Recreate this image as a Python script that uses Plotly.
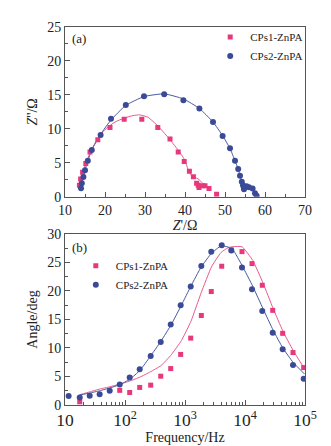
import plotly.graph_objects as go

PINK = "#E8387C"
BLUE = "#3B4A96"
PINK_L = "#E95A8E"
BLUE_L = "#4A5AA2"

# ---------- (a) Nyquist ----------
nyq1_x = [13.6, 13.9, 14.4, 15.2, 16.25, 18.2, 21.25, 24.8, 29.2, 33.2, 36.25, 38.3, 39.8, 41.1, 42.1, 42.9, 43.3, 43.5, 44.4, 45.0, 46.0, 47.9]
nyq1_y = [1.7, 2.6, 3.6, 4.9, 6.6, 8.4, 10.2, 11.4, 11.4, 10.2, 8.5, 6.6, 5.2, 3.75, 2.95, 2.0, 1.7, 1.35, 1.6, 1.6, 1.2, 0.35]
nyq1_fit_x = [13.6, 14.0, 14.5, 15.3, 16.3, 18.0, 20.0, 22.5, 24.9, 27.0, 28.7, 30.75, 33.25, 35.75, 38.25, 39.9, 40.75, 41.6, 43.25, 44.5, 44.9]
nyq1_fit_y = [1.7, 2.7, 3.7, 5.0, 6.5, 8.4, 9.9, 11.0, 11.6, 11.95, 12.05, 11.7, 10.4, 8.75, 6.9, 5.46, 4.05, 3.1, 2.64, 1.93, 1.45]

nyq2_x = [14.0, 14.2, 14.6, 15.0, 15.7, 16.7, 18.9, 21.5, 25.2, 29.75, 34.8, 39.6, 43.6, 47.0, 49.4, 51.25, 52.5, 53.3, 53.75, 54.2, 54.5, 54.7, 54.75, 55.4, 56.0, 56.9, 57.5, 57.9]
nyq2_y = [1.25, 2.0, 2.9, 3.9, 5.3, 6.9, 9.1, 11.5, 13.5, 14.8, 15.1, 14.2, 13.0, 11.0, 8.95, 7.15, 5.3, 4.1, 3.1, 2.2, 1.7, 1.35, 1.1, 1.55, 1.4, 1.2, 0.5, 0.15]
nyq2_fit_x = [13.9, 14.2, 14.6, 15.0, 15.7, 16.7, 18.9, 21.5, 25.2, 29.75, 34.8, 39.6, 43.6, 47.0, 49.4, 51.25, 52.5, 53.3, 53.8, 54.2, 54.6, 55.4, 56.0, 56.9, 57.5, 57.9]
nyq2_fit_y = [1.2, 2.0, 2.9, 3.9, 5.3, 6.9, 9.2, 11.3, 13.45, 14.75, 15.15, 14.4, 13.0, 11.0, 9.0, 7.1, 5.3, 4.1, 3.0, 2.2, 1.6, 1.45, 1.35, 1.1, 0.5, 0.1]

# ---------- (b) Bode phase ----------
freq = [11.5, 17.6, 25.8, 37.8, 55.6, 81.7, 119.7, 175.8, 268, 394, 578, 847, 1245, 1871, 2742, 4093, 5916, 8913, 13092, 19409, 28973, 42462, 63096, 95060]
phase2 = [1.56, 1.30, 1.63, 1.90, 2.52, 3.58, 4.83, 6.28, 8.6, 11.05, 14.13, 17.5, 20.8, 24.4, 26.87, 28.04, 27.1, 24.1, 20.3, 16.5, 12.67, 9.76, 7.0, 4.6]
freq1 = [17.6, 81.7, 119.7, 175.8, 268, 394, 578, 847, 1245, 1871, 2742, 4093, 5916, 8913, 13092, 19409, 28973, 42462, 63096, 95060]
phase1 = [0.56, 2.57, 2.19, 3.08, 3.48, 5.05, 6.39, 8.87, 11.73, 15.7, 19.9, 24.34, 27.2, 26.9, 24.8, 21.0, 16.6, 12.57, 9.2, 6.56]

fit_f = [17.6, 25.7, 38.0, 56.2, 81.3, 120.0, 178.0, 263.0, 398.0, 589.0, 871.0, 1259.0, 1862.0, 2754.0, 3981.0, 5248.0, 6310.0, 8913.0, 13490.0, 19953.0, 29512.0, 42658.0, 63096.0, 98855.0]
fit1 = [1.8, 2.3, 2.8, 3.2, 3.65, 4.2, 4.9, 5.8, 6.9, 8.8, 11.3, 14.7, 19.7, 24.2, 26.75, 27.6, 27.76, 27.76, 25.35, 21.4, 16.9, 13.0, 9.6, 6.3]
fit2 = [1.73, 2.1, 2.5, 3.0, 3.55, 4.5, 6.1, 8.5, 11.2, 14.1, 17.5, 20.9, 24.2, 26.6, 27.9, 27.7, 27.2, 24.5, 20.8, 16.9, 13.1, 10.0, 7.5, 5.4]

labels = ["CPs1-ZnPA", "CPs2-ZnPA"]

fig = go.Figure()
# panel a
fig.add_trace(go.Scatter(x=nyq1_fit_x, y=nyq1_fit_y, mode="lines", line=dict(color=PINK_L, width=1, shape="spline", smoothing=0.5),
                         showlegend=False, xaxis="x", yaxis="y", hoverinfo="skip"))
fig.add_trace(go.Scatter(x=nyq2_fit_x, y=nyq2_fit_y, mode="lines", line=dict(color=BLUE_L, width=1, shape="spline", smoothing=0.5),
                         showlegend=False, xaxis="x", yaxis="y", hoverinfo="skip"))
fig.add_trace(go.Scatter(x=nyq1_x, y=nyq1_y, mode="markers", name=labels[0], marker=dict(symbol="square", size=5, color=PINK),
                         xaxis="x", yaxis="y", legend="legend"))
fig.add_trace(go.Scatter(x=nyq2_x, y=nyq2_y, mode="markers", name=labels[1], marker=dict(symbol="circle", size=6, color=BLUE),
                         xaxis="x", yaxis="y", legend="legend"))
# panel b
fig.add_trace(go.Scatter(x=fit_f, y=fit1, mode="lines", line=dict(color=PINK_L, width=1, shape="spline", smoothing=0.4),
                         showlegend=False, xaxis="x2", yaxis="y2", hoverinfo="skip"))
fig.add_trace(go.Scatter(x=fit_f, y=fit2, mode="lines", line=dict(color=BLUE_L, width=1, shape="spline", smoothing=0.4),
                         showlegend=False, xaxis="x2", yaxis="y2", hoverinfo="skip"))
fig.add_trace(go.Scatter(x=freq1, y=phase1, mode="markers", name=labels[0], marker=dict(symbol="square", size=5, color=PINK),
                         xaxis="x2", yaxis="y2", legend="legend2"))
fig.add_trace(go.Scatter(x=freq, y=phase2, mode="markers", name=labels[1], marker=dict(symbol="circle", size=6, color=BLUE),
                         xaxis="x2", yaxis="y2", legend="legend2"))

FONT = "Liberation Serif, Times New Roman, serif"
axcol = "#555555"
common = dict(showgrid=False, zeroline=False, showline=True, linecolor=axcol, linewidth=1, mirror=True,
              ticks="inside", ticklen=5, tickcolor=axcol, tickfont=dict(size=14, color="#222"))

fig.update_layout(
    width=331, height=446,
    margin=dict(l=57, r=34, t=15, b=37),
    paper_bgcolor="white", plot_bgcolor="white",
    font=dict(family=FONT, color="#222", size=14),
    xaxis=dict(domain=[0, 1], anchor="y", range=[10, 70], dtick=10, tick0=10,
               minor=dict(dtick=5, ticks="inside", ticklen=3, tickcolor=axcol),
               title=dict(text="<i>Z</i>'/Ω", standoff=2, font=dict(size=14)), **common),
    yaxis=dict(domain=[0.551, 1], anchor="x", range=[0, 25], dtick=5,
               minor=dict(dtick=2.5, ticks="inside", ticklen=3, tickcolor=axcol),
               title=dict(text="<i>Z</i>''/Ω", standoff=6, font=dict(size=14)), **common),
    xaxis2=dict(domain=[0, 1], anchor="y2", type="log", range=[1, 5], dtick=1,
                exponentformat="power", showexponent="all",
                minor=dict(ticks="inside", ticklen=3, tickcolor=axcol, dtick="D1"),
                title=dict(text="Frequency/Hz", standoff=2, font=dict(size=14)), **common),
    yaxis2=dict(domain=[0, 0.4525], anchor="x2", range=[0, 30], dtick=5,
                minor=dict(dtick=2.5, ticks="inside", ticklen=3, tickcolor=axcol),
                title=dict(text="Angle/deg", standoff=6, font=dict(size=14)), **common),
    legend=dict(x=0.605, y=1.012, xanchor="left", yanchor="top", font=dict(size=11, family=FONT),
                bgcolor="rgba(0,0,0,0)", itemwidth=30, tracegroupgap=0),
    legend2=dict(x=0.045, y=0.407, xanchor="left", yanchor="top", font=dict(size=11, family=FONT),
                 bgcolor="rgba(0,0,0,0)", itemwidth=30, tracegroupgap=0),
    annotations=[
        dict(text="(a)", xref="paper", yref="paper", x=0.02, y=0.996, xanchor="left", yanchor="top",
             showarrow=False, font=dict(size=13, family=FONT)),
        dict(text="(b)", xref="paper", yref="paper", x=0.02, y=0.442, xanchor="left", yanchor="top",
             showarrow=False, font=dict(size=13, family=FONT)),
    ],
)

fig.write_html("out.html")
